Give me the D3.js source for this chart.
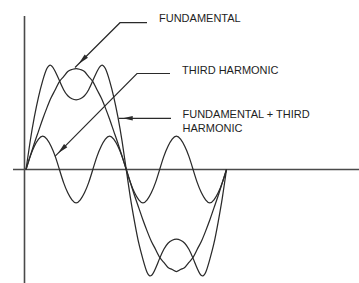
<!DOCTYPE html>
<html>
<head>
<meta charset="utf-8">
<script src="https://cdn.jsdelivr.net/npm/d3@7"></script>
<style>
  html, body { margin: 0; padding: 0; background: #fff; }
  svg { display: block; }
  text { font-family: "Liberation Sans", Arial, sans-serif; font-size: 11px; fill: #1e1e1e; }
</style>
</head>
<body>
<svg id="chart" width="359" height="283"></svg>
<script>
// ---- data ----
// phase in degrees over one full cycle of the fundamental
const phase = [0, 7.5, 15, 22.5, 30, 37.5, 45, 52.5, 60, 67.5, 75, 82.5, 90,
  97.5, 105, 112.5, 120, 127.5, 135, 142.5, 150, 157.5, 165, 172.5, 180,
  187.5, 195, 202.5, 210, 217.5, 225, 232.5, 240, 247.5, 255, 262.5, 270,
  277.5, 285, 292.5, 300, 307.5, 315, 322.5, 330, 337.5, 345, 352.5, 360];

const fundamental = [0, .13, .26, .38, .50, .61, .71, .79, .87, .92, .97, .99, 1.00,
  .99, .97, .92, .87, .79, .71, .61, .50, .38, .26, .13, 0,
  -.13, -.26, -.38, -.50, -.61, -.71, -.79, -.87, -.92, -.97, -.99, -1.01,
  -.99, -.97, -.92, -.87, -.79, -.71, -.61, -.50, -.38, -.26, -.13, 0];

const thirdHarmonic = [0, .13, .23, .30, .33, .30, .23, .13, 0,
  -.13, -.23, -.30, -.33, -.30, -.23, -.13, 0,
  .13, .23, .30, .33, .30, .23, .13, 0,
  -.13, -.23, -.30, -.33, -.30, -.23, -.13, 0,
  .13, .23, .30, .33, .30, .23, .13, 0,
  -.13, -.23, -.30, -.33, -.30, -.23, -.13, 0];

const combined = [0, .28, .52, .72, .88, 1.00, 1.03, .97, .88, .79, .73, .70, .69,
  .70, .73, .79, .88, .97, 1.03, 1.00, .88, .72, .52, .28, 0,
  -.28, -.52, -.73, -.89, -1.02, -1.05, -.98, -.88, -.79, -.73, -.70, -.69,
  -.70, -.73, -.79, -.88, -.98, -1.05, -1.02, -.89, -.73, -.52, -.28, 0];

const labels = ["FUNDAMENTAL", "THIRD HARMONIC", "FUNDAMENTAL + THIRD", "HARMONIC"];

// ---- drawing ----
const svg = d3.select("#chart");
const ink = "#2a2a2a";

const x = d3.scaleLinear().domain([0, 360]).range([26, 226.5]);
const y = d3.scaleLinear().domain([-1, 1]).range([169.5 + 101, 169.5 - 101]);

// axes (plain lines, no ticks)
svg.append("line")
  .attr("x1", 13).attr("x2", 359)
  .attr("y1", y(0)).attr("y2", y(0))
  .attr("stroke", "#4a4a4a").attr("stroke-width", 1.6);
svg.append("line")
  .attr("x1", x(0) - 1.5).attr("x2", x(0) - 1.5)
  .attr("y1", 16).attr("y2", 283)
  .attr("stroke", "#4a4a4a").attr("stroke-width", 1.6);

const line = d3.line()
  .x((d, i) => x(phase[i]))
  .y(d => y(d))
  .curve(d3.curveNatural);

[fundamental, thirdHarmonic, combined].forEach(series => {
  svg.append("path")
    .attr("d", line(series))
    .attr("fill", "none")
    .attr("stroke", ink)
    .attr("stroke-width", 1.25);
});

// ---- annotations ----
function arrowHead(tx, ty, dx, dy, len, half) {
  const n = Math.hypot(dx, dy); dx /= n; dy /= n;
  const bx = tx - dx * len, by = ty - dy * len;
  const px = -dy * half, py = dx * half;
  svg.append("path")
    .attr("d", `M${tx},${ty}L${bx + px},${by + py}L${bx - px},${by - py}Z`)
    .attr("fill", ink);
}
function leader(points) {
  svg.append("path")
    .attr("d", d3.line()(points))
    .attr("fill", "none").attr("stroke", ink).attr("stroke-width", 1.2);
}

// fundamental: points at its crest
const fTip = [x(88), y(1.0) - 1];
leader([[147, 22.7], [120, 22.7], fTip]);
arrowHead(fTip[0] + 3.5, fTip[1] - 3.5, fTip[0] - 120, fTip[1] - 22.7, 11, 2.3);

// third harmonic: points at rising side of its second lobe
const tTip = [x(52), y(0.13)];
leader([[170, 73.5], [137, 73.5], tTip]);
arrowHead(tTip[0] + 3, tTip[1] - 3, tTip[0] - 137, tTip[1] - 73.5, 11, 2.3);

// combined: horizontal arrow pointing left at its falling edge
const cTip = [x(166.5), 118.3];
leader([[171, 118.3], cTip]);
arrowHead(cTip[0] + 4, 118.3, -1, 0, 10, 2.3);

svg.append("text").attr("x", 159).attr("y", 21.5).text(labels[0]);
svg.append("text").attr("x", 182).attr("y", 74).text(labels[1]);
svg.append("text").attr("x", 182.5).attr("y", 118).text(labels[2]);
svg.append("text").attr("x", 182.5).attr("y", 132).text(labels[3]);
</script>
</body>
</html>
